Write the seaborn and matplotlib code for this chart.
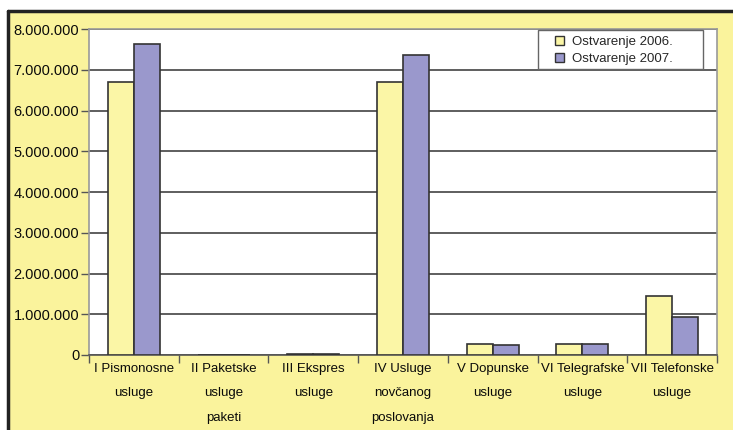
import matplotlib
matplotlib.use("Agg")
import matplotlib.pyplot as plt
from matplotlib.patches import Rectangle
from matplotlib.ticker import FuncFormatter, FixedLocator
import pandas as pd
import seaborn as sns

categories = [
    "I Pismonosne\nusluge",
    "II Paketske\nusluge\npaketi",
    "III Ekspres\nusluge",
    "IV Usluge\nnovčanog\nposlovanja",
    "V Dopunske\nusluge",
    "VI Telegrafske\nusluge",
    "VII Telefonske\nusluge",
]
series_names = ["Ostvarenje 2006.", "Ostvarenje 2007."]
values_2006 = [6700000, 8000, 30000, 6700000, 270000, 270000, 1460000]
values_2007 = [7630000, 8000, 30000, 7360000, 240000, 270000, 930000]
y_ticks = [0, 1000000, 2000000, 3000000, 4000000, 5000000, 6000000, 7000000, 8000000]

bg_yellow = "#FAF39C"
bar_colors = ["#FBF6A6", "#9A98CC"]

df = pd.DataFrame({
    "kategorija": categories * 2,
    "serija": [series_names[0]] * len(categories) + [series_names[1]] * len(categories),
    "vrijednost": values_2006 + values_2007,
})

sns.set_theme(style="white")
plt.rcParams["font.family"] = ["Liberation Sans", "DejaVu Sans"]

fig = plt.figure(figsize=(7.33, 4.30), dpi=100)
fig.patch.set_facecolor("white")
# yellow chart panel with dark border on top and left
fig.patches.append(Rectangle((8 / 733, 0), 1, 1 - 11 / 430, transform=fig.transFigure,
                             facecolor=bg_yellow, edgecolor="none", zorder=-10))
fig.lines.append(plt.Line2D([8 / 733, 1], [1 - 11 / 430, 1 - 11 / 430], transform=fig.transFigure,
                            color="#222222", lw=2.5, zorder=-5))
fig.lines.append(plt.Line2D([8 / 733, 8 / 733], [0, 1 - 11 / 430], transform=fig.transFigure,
                            color="#222222", lw=2.5, zorder=-5))

ax = fig.add_axes([89 / 733, 75 / 430, 628 / 733, 326 / 430])
ax.set_facecolor("white")

sns.barplot(data=df, x="kategorija", y="vrijednost", hue="serija", order=categories,
            hue_order=series_names, palette=bar_colors, width=0.58, gap=0,
            edgecolor="#333333", linewidth=1.2, saturation=1, ax=ax, zorder=3)

ax.set_ylim(0, 8000000)
ax.set_xlim(-0.5, len(categories) - 0.5)
ax.set_yticks(y_ticks)
ax.yaxis.set_major_formatter(FuncFormatter(lambda v, p: f"{int(v):,}".replace(",", ".")))
ax.yaxis.grid(True, color="#333333", lw=1.1, zorder=1)
ax.set_axisbelow(True)
ax.set_xlabel("")
ax.set_ylabel("")

ax.tick_params(axis="y", which="major", left=True, length=6, width=1, color="#555555",
               labelsize=10.5, pad=1, labelcolor="#0a0a0a")
ax.tick_params(axis="x", which="major", length=0, labelsize=9.5, pad=6, labelcolor="#0a0a0a")
ax.xaxis.set_minor_locator(FixedLocator([i - 0.5 for i in range(len(categories) + 1)]))
ax.tick_params(axis="x", which="minor", bottom=True, length=6, width=1, color="#555555")
for lbl in ax.get_xticklabels():
    lbl.set_linespacing(2.35)
    lbl.set_verticalalignment("top")

for side in ["top", "left", "right"]:
    ax.spines[side].set_color("#999999")
    ax.spines[side].set_linewidth(1.2)
ax.spines["bottom"].set_color("#555555")
ax.spines["bottom"].set_linewidth(1.2)

# legend frame drawn separately so the entries can sit inset like the original
ax.add_patch(Rectangle((0.715, 0.877), 0.263, 0.12, transform=ax.transAxes,
                       facecolor="white", edgecolor="#666666", lw=1, zorder=4))
leg = ax.legend(title=None, loc="upper left", bbox_to_anchor=(0.742, 0.978),
                frameon=False, fontsize=9.5, handlelength=0.7, handleheight=0.7,
                handletextpad=0.6, borderpad=0, labelspacing=0.35, borderaxespad=0)
leg.set_zorder(5)
for h in leg.legend_handles:
    h.set_edgecolor("#333333")
    h.set_linewidth(1)

fig.savefig("out.png", dpi=100, facecolor=fig.get_facecolor())
